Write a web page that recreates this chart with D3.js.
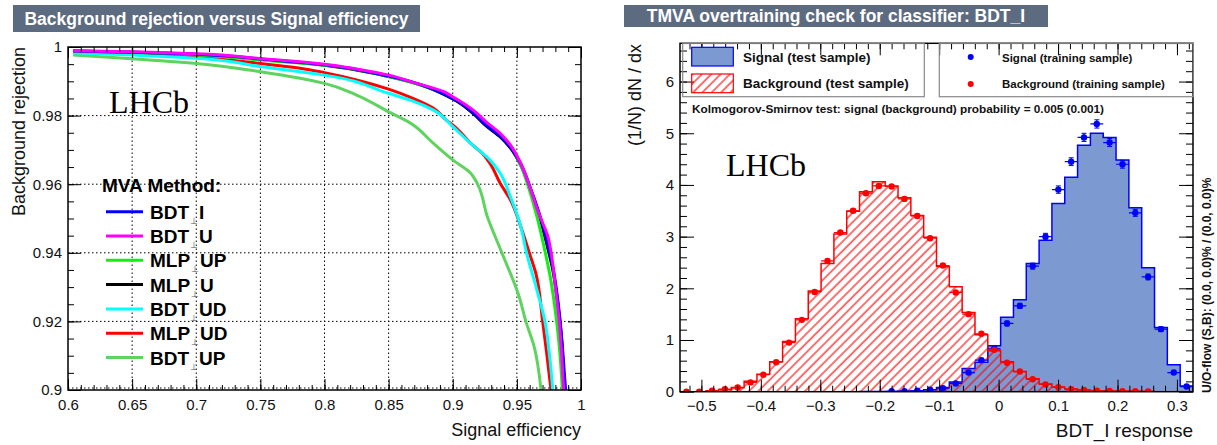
<!DOCTYPE html>
<html>
<head>
<meta charset="utf-8">
<script src="https://cdn.jsdelivr.net/npm/d3@7"></script>
<style>
  body { margin: 0; background: #fff; }
  svg { display: block; font-family: "Liberation Sans", Arial, Helvetica, sans-serif; }
</style>
</head>
<body>
<svg id="chart" width="1217" height="445"></svg>
<script>
'use strict';

/*
 * Data: ROC curves, [signal efficiency, background rejection]
 */
var rocBDT_I = [[0.604,0.9988],[0.65,0.9985],[0.70,0.9979],[0.75,0.9965],[0.80,0.9948],[0.85,0.9915],[0.90,0.9850],[0.916,0.9808],[0.926,0.9772],[0.937,0.9740],[0.945,0.9708],[0.953,0.9660],[0.960,0.9595],[0.967,0.9520],[0.973,0.9440],[0.978,0.9360],[0.982,0.9260],[0.985,0.9150],[0.987,0.9050],[0.988,0.9000]];
var rocBDT_U = [[0.604,0.9989],[0.65,0.9986],[0.70,0.9980],[0.75,0.9966],[0.781,0.9957],[0.80,0.9950],[0.825,0.9936],[0.85,0.9918],[0.872,0.9894],[0.893,0.9870],[0.90,0.9855],[0.916,0.9816],[0.926,0.9782],[0.937,0.9748],[0.945,0.9714],[0.953,0.9661],[0.960,0.9593],[0.967,0.9515],[0.974,0.9450],[0.9775,0.9380],[0.980,0.9300],[0.983,0.9200],[0.985,0.9100],[0.9865,0.9000]];
var rocMLP_UP = [[0.604,0.9987],[0.65,0.9984],[0.70,0.9977],[0.75,0.9962],[0.80,0.9947],[0.85,0.9914],[0.90,0.9853],[0.916,0.9812],[0.926,0.9780],[0.937,0.9745],[0.945,0.9712],[0.953,0.9655],[0.960,0.9580],[0.966,0.9500],[0.971,0.9420],[0.976,0.9330],[0.980,0.9230],[0.983,0.9130],[0.9855,0.9000]];
var rocMLP_U = [[0.604,0.9988],[0.65,0.9985],[0.70,0.9978],[0.75,0.9964],[0.80,0.9947],[0.85,0.9914],[0.90,0.9849],[0.916,0.9806],[0.926,0.9770],[0.937,0.9738],[0.945,0.9705],[0.953,0.9656],[0.960,0.9590],[0.967,0.9515],[0.973,0.9430],[0.978,0.9350],[0.982,0.9250],[0.985,0.9140],[0.9865,0.9040],[0.9872,0.9000]];
var rocBDT_UD = [[0.604,0.9983],[0.65,0.9977],[0.70,0.9967],[0.75,0.9943],[0.781,0.9928],[0.80,0.9918],[0.85,0.9865],[0.867,0.9845],[0.885,0.9816],[0.90,0.9768],[0.914,0.9719],[0.929,0.9671],[0.937,0.9632],[0.945,0.9563],[0.953,0.9477],[0.9575,0.9400],[0.965,0.9300],[0.9719,0.9200],[0.9755,0.9100],[0.978,0.9000]];
var rocMLP_UD = [[0.604,0.9986],[0.65,0.9980],[0.70,0.9970],[0.75,0.9952],[0.781,0.9938],[0.80,0.9925],[0.825,0.9904],[0.85,0.9877],[0.869,0.9850],[0.885,0.9821],[0.895,0.9787],[0.903,0.9763],[0.914,0.9719],[0.923,0.9690],[0.929,0.9661],[0.937,0.9603],[0.945,0.9554],[0.953,0.9477],[0.9597,0.9400],[0.9648,0.9340],[0.9701,0.9200],[0.9735,0.9100],[0.9766,0.9000]];
var rocBDT_UP = [[0.604,0.9977],[0.65,0.9966],[0.70,0.9952],[0.75,0.9928],[0.781,0.9909],[0.80,0.9894],[0.825,0.9860],[0.85,0.9811],[0.867,0.9778],[0.885,0.9719],[0.90,0.9671],[0.914,0.9632],[0.919,0.9603],[0.927,0.9505],[0.9383,0.9400],[0.9518,0.9272],[0.957,0.9200],[0.9635,0.9126],[0.9688,0.9000]];

var rocNames = ['BDT_I', 'BDT_U', 'MLP_UP', 'MLP_U', 'BDT_UD', 'MLP_UD', 'BDT_UP'];
var rocCurves = [rocBDT_I, rocBDT_U, rocMLP_UP, rocMLP_U, rocBDT_UD, rocMLP_UD, rocBDT_UP];
var rocXTicks = [0.6, 0.65, 0.7, 0.75, 0.8, 0.85, 0.9, 0.95, 1];
var rocYTicks = [0.9, 0.92, 0.94, 0.96, 0.98, 1];

/*
 * Data: BDT_I response, 40 bins, normalised (1/N) dN/dx
 */
var respRange = [-0.536, 0.327];
var sigTest  = [0,0,0,0,0,0,0,0,0,0,0,0,0,0,0.002,0.004,0.006,0.01,0.02,0.04,0.08,0.19,0.45,0.57,0.89,1.44,1.78,2.48,2.93,3.64,4.15,4.77,5.00,4.92,4.48,3.56,2.40,1.24,0.52,0.11];
var sigTrain = [0,0,0,0,0,0,0,0,0,0,0,0,0,0,0.003,0.005,0.008,0.01,0.02,0.04,0.07,0.16,0.37,0.61,0.83,1.32,1.66,2.43,3.00,3.91,4.45,4.92,5.18,4.82,4.40,3.46,2.22,1.21,0.37,0.10];
var bkgTest  = [0,0,0.01,0.04,0.08,0.20,0.34,0.58,0.97,1.41,1.95,2.48,3.05,3.49,3.87,4.06,3.98,3.75,3.41,2.99,2.42,2.03,1.53,1.10,0.79,0.58,0.39,0.25,0.15,0.09,0.05,0.035,0.02,0.015,0.01,0.01,0.005,0,0,0];
var bkgTrain = [0,0,0.02,0.05,0.08,0.18,0.33,0.57,0.95,1.39,1.93,2.53,3.08,3.50,3.84,3.98,3.97,3.73,3.40,2.97,2.44,1.92,1.50,1.12,0.81,0.56,0.39,0.24,0.14,0.085,0.05,0.035,0.02,0.015,0.01,0.01,0.005,0,0,0];
var respXTicks = [-0.5, -0.4, -0.3, -0.2, -0.1, 0, 0.1, 0.2, 0.3];
var respYTicks = [0, 1, 2, 3, 4, 5, 6];

/*
 * Styles
 */
var rocColors = {
  BDT_I: '#0000ff', BDT_U: '#ff00ff', MLP_UP: '#11f011', MLP_U: '#000000',
  BDT_UD: '#00ffff', MLP_UD: '#ff0000', BDT_UP: '#5fd35f'
};
var drawOrder = ['BDT_UP', 'MLP_UD', 'BDT_UD', 'MLP_U', 'MLP_UP', 'BDT_I', 'BDT_U'];
var titleFill = '#5d6b80';
var sigFill = '#7d99d1';

var svg = d3.select('#chart');
var defs = svg.append('defs');

function fmtNum(d) {
  return String(+d.toFixed(3));
}

/**
 * Grey title box in ROOT style
 */
function drawTitle(x, y, w, h, label) {
  svg.append('rect').attr('x', x).attr('y', y).attr('width', w).attr('height', h)
    .attr('fill', titleFill);
  svg.append('text').attr('x', x + w / 2).attr('y', y + h / 2 + 6)
    .attr('text-anchor', 'middle').attr('fill', '#fff')
    .attr('font-weight', 'bold').attr('font-size', 17.5).text(label);
}

/**
 * Inside ticks on all four sides; labels only on bottom and left
 */
function drawTicks(g, x, y, o) {
  var x0 = x.range()[0], x1 = x.range()[1], y0 = y.range()[0], y1 = y.range()[1];

  function styleAxis(sel) {
    sel.select('.domain').remove();
    sel.selectAll('line').attr('stroke', '#000').attr('stroke-width', 1);
    sel.selectAll('text').attr('font-size', 15).attr('fill', '#111')
      .attr('font-family', '"Liberation Sans", Arial, sans-serif');
  }

  g.append('g').attr('transform', 'translate(0,' + y0 + ')')
    .call(d3.axisBottom(x).tickValues(o.xMajor).tickSize(-o.major).tickPadding(9).tickFormat(o.xFmt))
    .call(styleAxis);
  g.append('g').attr('transform', 'translate(0,' + y0 + ')')
    .call(d3.axisBottom(x).tickValues(o.xMinor).tickSize(-o.minor).tickFormat(''))
    .call(styleAxis);
  g.append('g').attr('transform', 'translate(0,' + y1 + ')')
    .call(d3.axisTop(x).tickValues(o.xMajor).tickSize(-o.major).tickFormat(''))
    .call(styleAxis);
  g.append('g').attr('transform', 'translate(0,' + y1 + ')')
    .call(d3.axisTop(x).tickValues(o.xMinor).tickSize(-o.minor).tickFormat(''))
    .call(styleAxis);

  g.append('g').attr('transform', 'translate(' + x0 + ',0)')
    .call(d3.axisLeft(y).tickValues(o.yMajor).tickSize(-o.majorY).tickPadding(6).tickFormat(o.yFmt))
    .call(styleAxis);
  g.append('g').attr('transform', 'translate(' + x0 + ',0)')
    .call(d3.axisLeft(y).tickValues(o.yMinor).tickSize(-o.minorY).tickFormat(''))
    .call(styleAxis);
  g.append('g').attr('transform', 'translate(' + x1 + ',0)')
    .call(d3.axisRight(y).tickValues(o.yMajor).tickSize(-o.majorY).tickFormat(''))
    .call(styleAxis);
  g.append('g').attr('transform', 'translate(' + x1 + ',0)')
    .call(d3.axisRight(y).tickValues(o.yMinor).tickSize(-o.minorY).tickFormat(''))
    .call(styleAxis);

  // Frame
  g.append('rect').attr('x', x0).attr('y', y1).attr('width', x1 - x0).attr('height', y0 - y1)
    .attr('fill', 'none').attr('stroke', '#000').attr('stroke-width', 1.5);
}

/**
 * Name with ROOT-style underscore glyph
 */
function methodLabel(sel, name) {
  var parts = name.split('_');
  sel.append('tspan').text(parts[0]);
  sel.append('tspan').attr('font-size', 9).attr('font-weight', 'normal')
    .attr('fill', '#555').attr('dy', 5).attr('dx', 1).text('\u22a5');
  sel.append('tspan').attr('dy', -5).attr('dx', 1).text(parts[1]);
}

/*
 * Left: ROC curves
 */
function drawRoc() {
  var x = d3.scaleLinear().domain([0.6, 1]).range([68, 581]);
  var y = d3.scaleLinear().domain([0.9, 1]).range([390, 47]);
  var g = svg.append('g');

  drawTitle(13, 5, 407, 27, 'Background rejection versus Signal efficiency');

  // Dotted grid at major ticks
  g.selectAll('.vgrid').data(rocXTicks.slice(1, -1)).enter().append('line')
    .attr('x1', x).attr('x2', x).attr('y1', y(0.9)).attr('y2', y(1))
    .attr('stroke', '#000').attr('stroke-dasharray', '1.5,2.5');
  g.selectAll('.hgrid').data(rocYTicks.slice(0, -1)).enter().append('line')
    .attr('y1', y).attr('y2', y).attr('x1', x(0.6)).attr('x2', x(1))
    .attr('transform', function(d) { return d === 0.9 ? 'translate(0,-2)' : null; })
    .attr('stroke', '#000').attr('stroke-dasharray', '1.5,2.5');

  // Curves
  defs.append('clipPath').attr('id', 'rocClip').append('rect')
    .attr('x', 68).attr('y', 47).attr('width', 513).attr('height', 343);
  var line = d3.line().x(function(d) { return x(d[0]); }).y(function(d) { return y(d[1]); })
    .curve(d3.curveMonotoneY);
  var curves = g.append('g').attr('clip-path', 'url(#rocClip)');
  drawOrder.forEach(function(name) {
    var data = rocCurves[rocNames.indexOf(name)];
    curves.append('path').datum(data).attr('d', line)
      .attr('fill', 'none').attr('stroke', rocColors[name]).attr('stroke-width', 3)
      .attr('stroke-linejoin', 'round');
  });

  var xMinor = d3.range(61, 100).map(function(i) { return i / 100; });
  var yMinor = d3.range(181, 200).map(function(i) { return i / 200; });
  drawTicks(g, x, y, {
    xMajor: rocXTicks, xMinor: xMinor, yMajor: rocYTicks, yMinor: yMinor,
    major: 11, minor: 5, majorY: 13, minorY: 6, xFmt: fmtNum, yFmt: fmtNum
  });

  // Axis titles
  g.append('text').attr('x', 581).attr('y', 436).attr('text-anchor', 'end')
    .attr('font-size', 18).attr('fill', '#111').text('Signal efficiency');
  g.append('text').attr('transform', 'translate(25,47) rotate(-90)').attr('text-anchor', 'end')
    .attr('font-size', 18).attr('fill', '#111').text('Background rejection');

  g.append('text').attr('x', 109).attr('y', 113)
    .attr('font-family', '"Liberation Serif", "Times New Roman", serif')
    .attr('font-size', 32).text('LHCb');

  // Legend
  var leg = g.append('g').attr('font-weight', 'bold').attr('font-size', 19);
  leg.append('text').attr('x', 102).attr('y', 192).text('MVA Method:');
  rocNames.forEach(function(name, i) {
    var yy = 211.7 + i * 24.3;
    leg.append('line').attr('x1', 106).attr('x2', 143).attr('y1', yy).attr('y2', yy)
      .attr('stroke', rocColors[name]).attr('stroke-width', 3);
    leg.append('text').attr('x', 150).attr('y', yy + 7).call(methodLabel, name);
  });
}

/*
 * Right: overtraining check
 */
function drawResponse() {
  var x = d3.scaleLinear().domain(respRange).range([680, 1193]);
  var y = d3.scaleLinear().domain([0, 6.74]).range([391.7, 43.3]);
  var nBins = sigTest.length;
  var bw = (respRange[1] - respRange[0]) / nBins;
  var g = svg.append('g');

  drawTitle(624, 5, 424, 22, 'TMVA overtraining check for classifier: BDT_I');

  // Hatch pattern for background
  var hatch = defs.append('pattern').attr('id', 'hatch').attr('patternUnits', 'userSpaceOnUse')
    .attr('width', 6.6).attr('height', 6.6).attr('patternTransform', 'rotate(45)');
  hatch.append('line').attr('x1', 1).attr('x2', 1).attr('y1', 0).attr('y2', 6.6)
    .attr('stroke', '#ff0000').attr('stroke-width', 1.1);

  defs.append('clipPath').attr('id', 'respClip').append('rect')
    .attr('x', 680).attr('y', 43.3).attr('width', 513).attr('height', 348.4);
  var plot = g.append('g').attr('clip-path', 'url(#respClip)');

  function edges(vals) {
    var pts = vals.map(function(v, i) { return [respRange[0] + i * bw, v]; });
    pts.push([respRange[1], vals[nBins - 1]]);
    return pts;
  }
  var area = d3.area().curve(d3.curveStepAfter)
    .x(function(d) { return x(d[0]); }).y0(y(0)).y1(function(d) { return y(d[1]); });

  plot.append('path').datum(edges(sigTest)).attr('d', area)
    .attr('fill', sigFill).attr('stroke', '#0000ff').attr('stroke-width', 1.5);
  plot.append('path').datum(edges(bkgTest)).attr('d', area)
    .attr('fill', 'url(#hatch)').attr('stroke', '#ff0000').attr('stroke-width', 1.5);

  // Training points with error bars
  function drawPoints(vals, color, first, last, errScale) {
    var pts = vals.map(function(v, i) { return { i: i, v: v }; })
      .filter(function(d) { return d.i >= first && d.i <= last; });
    var grp = plot.append('g').attr('stroke', color).attr('fill', color);
    pts.forEach(function(d) {
      var cx = x(respRange[0] + (d.i + 0.5) * bw), cy = y(d.v);
      var err = (0.012 + errScale * Math.sqrt(d.v)) * (d.v > 0 ? 1 : 0);
      grp.append('line').attr('x1', x(respRange[0] + d.i * bw)).attr('x2', x(respRange[0] + (d.i + 1) * bw))
        .attr('y1', cy).attr('y2', cy).attr('stroke-width', 1.2);
      if (err > 0) {
        var ya = y(d.v + err), yb = y(d.v - err);
        grp.append('line').attr('x1', cx).attr('x2', cx).attr('y1', ya).attr('y2', yb).attr('stroke-width', 1.2);
        grp.append('line').attr('x1', cx - 2.5).attr('x2', cx + 2.5).attr('y1', ya).attr('y2', ya).attr('stroke-width', 1);
        grp.append('line').attr('x1', cx - 2.5).attr('x2', cx + 2.5).attr('y1', yb).attr('y2', yb).attr('stroke-width', 1);
      }
      grp.append('circle').attr('cx', cx).attr('cy', cy).attr('r', 3.2).attr('stroke', 'none');
    });
  }
  drawPoints(sigTrain, '#0000ff', 16, 39, 0.03);
  drawPoints(bkgTrain, '#ff0000', 0, 36, 0.012);

  var xMinor = d3.range(-26, 17).map(function(i) { return i / 50; });
  var yMinor = d3.range(1, 34).map(function(i) { return i / 5; });
  drawTicks(g, x, y, {
    xMajor: respXTicks, xMinor: xMinor, yMajor: respYTicks, yMinor: yMinor,
    major: 12, minor: 6, majorY: 14, minorY: 7,
    xFmt: function(d) { return d === 0 ? '0' : d3.format('.1f')(d); },
    yFmt: function(d) { return String(d); }
  });

  // Axis titles
  g.append('text').attr('x', 1193).attr('y', 437).attr('text-anchor', 'end')
    .attr('font-size', 19).attr('fill', '#111').text('BDT_I response');
  g.append('text').attr('transform', 'translate(641,44) rotate(-90)').attr('text-anchor', 'end')
    .attr('font-size', 18).attr('fill', '#111').text('(1/N) dN / dx');
  g.append('text').attr('transform', 'translate(1211,393) rotate(-90)')
    .attr('font-size', 12).attr('font-weight', 'bold').attr('fill', '#111')
    .text('U/O-flow (S,B): (0.0, 0.0)% / (0.0, 0.0)%');

  g.append('text').attr('x', 726).attr('y', 176)
    .attr('font-family', '"Liberation Serif", "Times New Roman", serif')
    .attr('font-size', 32).text('LHCb');

  // Legends
  var leg = g.append('g').attr('font-weight', 'bold').attr('fill', '#111');
  leg.append('rect').attr('x', 682.7).attr('y', 43.3).attr('width', 241.6).attr('height', 53.4)
    .attr('fill', 'none').attr('stroke', '#888').attr('stroke-width', 1.2);
  leg.append('rect').attr('x', 939.3).attr('y', 43.3).attr('width', 254).attr('height', 53.4)
    .attr('fill', 'none').attr('stroke', '#888').attr('stroke-width', 1.2);

  leg.append('rect').attr('x', 691.7).attr('y', 47.3).attr('width', 41.6).attr('height', 18.7)
    .attr('fill', sigFill).attr('stroke', '#0000ff').attr('stroke-width', 1.2);
  leg.append('rect').attr('x', 691.7).attr('y', 74).attr('width', 41.6).attr('height', 18.7)
    .attr('fill', 'url(#hatch)').attr('stroke', '#ff0000').attr('stroke-width', 1.2);
  leg.append('text').attr('x', 743).attr('y', 62).attr('font-size', 13.5).text('Signal (test sample)');
  leg.append('text').attr('x', 743).attr('y', 88).attr('font-size', 13.5).text('Background (test sample)');

  leg.append('circle').attr('cx', 970.7).attr('cy', 57).attr('r', 3).attr('fill', '#0000ff');
  leg.append('circle').attr('cx', 970.7).attr('cy', 84).attr('r', 3).attr('fill', '#ff0000');
  leg.append('text').attr('x', 1002).attr('y', 62).attr('font-size', 11.5).text('Signal (training sample)');
  leg.append('text').attr('x', 1002).attr('y', 88).attr('font-size', 11.5).text('Background (training sample)');

  leg.append('text').attr('x', 692).attr('y', 113).attr('font-size', 11.8)
    .text('Kolmogorov-Smirnov test: signal (background) probability = 0.005 (0.001)');
}

drawRoc();
drawResponse();
</script>
</body>
</html>
